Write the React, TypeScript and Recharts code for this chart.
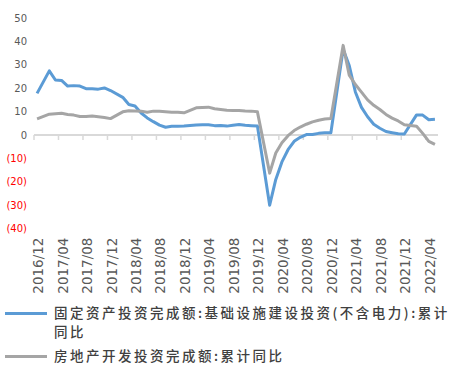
import React from 'react';
import { LineChart, Line, XAxis, YAxis, ReferenceLine } from 'recharts';

// months 2016/12 .. 2022/05, January has no release (null, joined across)
const months = [
  '2016/12',
  '2017/01', '2017/02', '2017/03', '2017/04', '2017/05', '2017/06',
  '2017/07', '2017/08', '2017/09', '2017/10', '2017/11', '2017/12',
  '2018/01', '2018/02', '2018/03', '2018/04', '2018/05', '2018/06',
  '2018/07', '2018/08', '2018/09', '2018/10', '2018/11', '2018/12',
  '2019/01', '2019/02', '2019/03', '2019/04', '2019/05', '2019/06',
  '2019/07', '2019/08', '2019/09', '2019/10', '2019/11', '2019/12',
  '2020/01', '2020/02', '2020/03', '2020/04', '2020/05', '2020/06',
  '2020/07', '2020/08', '2020/09', '2020/10', '2020/11', '2020/12',
  '2021/01', '2021/02', '2021/03', '2021/04', '2021/05', '2021/06',
  '2021/07', '2021/08', '2021/09', '2021/10', '2021/11', '2021/12',
  '2022/01', '2022/02', '2022/03', '2022/04', '2022/05',
];

const infraYoY = [
  17.8,
  null, 27.4, 23.5, 23.3, 20.9, 21.1, 20.9, 19.8, 19.8, 19.6, 20.1, 19.0,
  null, 16.1, 13.0, 12.4, 9.4, 7.3, 5.7, 4.2, 3.3, 3.7, 3.7, 3.8,
  null, 4.3, 4.4, 4.4, 4.0, 4.1, 3.8, 4.2, 4.5, 4.2, 4.0, 3.8,
  null, -30.0, -19.0, -11.5, -6.3, -2.7, -1.0, 0.2, 0.2, 0.7, 1.0, 1.0,
  null, 36.6, 29.7, 18.4, 11.8, 7.8, 4.6, 2.9, 1.5, 1.0, 0.5, 0.4,
  null, 8.6, 8.5, 6.5, 6.7,
];

const realEstateYoY = [
  6.9,
  null, 8.9, 9.1, 9.3, 8.8, 8.5, 7.9, 7.9, 8.1, 7.8, 7.5, 7.0,
  null, 9.9, 10.4, 10.3, 10.2, 9.7, 10.2, 10.1, 9.9, 9.7, 9.7, 9.5,
  null, 11.6, 11.8, 11.9, 11.2, 10.9, 10.6, 10.5, 10.5, 10.3, 10.2, 9.9,
  null, -16.3, -7.7, -3.3, -0.3, 1.9, 3.4, 4.6, 5.6, 6.3, 6.8, 7.0,
  null, 38.3, 25.6, 21.6, 18.3, 15.0, 12.7, 10.9, 8.8, 7.2, 6.0, 4.4,
  null, 3.7, 0.7, -2.7, -4.0,
];

const yTicks = [-40, -30, -20, -10, 0, 10, 20, 30, 40, 50];

const seriesNames = [
  '固定资产投资完成额:基础设施建设投资(不含电力):累计同比',
  '房地产开发投资完成额:累计同比',
];

const BLUE = '#5B9BD5';
const GRAY = '#A5A5A5';
const LABEL_EVERY = 4;

const data = months.map((m, i) => ({
  month: m,
  infra: infraYoY[i],
  estate: realEstateYoY[i],
}));

const fmtY = (v: number) => (v < 0 ? `(${Math.abs(v)})` : `${v}`);

function YTick({ x, y, payload }: any) {
  const v = payload.value;
  return (
    <text x={x} y={y} dy={3.5} textAnchor="end" fontSize={10}
      fontFamily="DejaVu Sans" fill={v < 0 ? '#FF0000' : '#595959'}>
      {fmtY(v)}
    </text>
  );
}

function XTick({ x, y, payload }: any) {
  return (
    <g transform={`translate(${x},${y})`}>
      <text transform="rotate(-90)" x={0} y={0} dy={6} textAnchor="end"
        fontSize={13.5} fontFamily="DejaVu Sans" fill="#595959">
        {payload.value}
      </text>
    </g>
  );
}

// zero axis line with small tick marks every 4 months (between categories)
function ZeroAxis(props: any) {
  const left = Math.min(props.x1, props.x2);
  const right = Math.max(props.x1, props.x2);
  const y = props.y1;
  const step = ((right - left) / months.length) * LABEL_EVERY;
  const marks = [];
  for (let k = 0; left + k * step <= right - 1; k++) {
    const tx = left + k * step;
    marks.push(<line key={k} x1={tx} x2={tx} y1={y} y2={y + 5} stroke="#D9D9D9" strokeWidth={1.5} />);
  }
  return (
    <g>
      <line x1={left} x2={right} y1={y} y2={y} stroke="#D9D9D9" strokeWidth={2} />
      {marks}
    </g>
  );
}

function LegendRow({ color, label, top }: { color: string; label: string; top: number }) {
  return (
    <div style={{ position: 'absolute', left: 0, top, width: 451, display: 'flex' }}>
      <div style={{ width: 42, height: 3, background: color, marginLeft: 5, marginTop: 8.5, flexShrink: 0 }} />
      <div style={{
        marginLeft: 7, width: 397, fontFamily: '"Noto Sans CJK SC"', fontSize: 13.5,
        fontWeight: 500, letterSpacing: 2.5, lineHeight: '19px', color: '#404040',
      }}>
        {label}
      </div>
    </div>
  );
}

export default function App() {
  return (
    <div style={{
      position: 'absolute', left: 0, top: 0, width: 451, height: 390,
      overflow: 'hidden', background: '#fff',
    }}>
      <LineChart width={451} height={390} data={data}
        margin={{ top: 18, right: 13, bottom: 0, left: 0 }}>
        <XAxis dataKey="month" interval={LABEL_EVERY - 1} height={161.4}
          padding={{ left: 3.06, right: 3.06 }} axisLine={false} tickLine={false}
          tickSize={0} tickMargin={9} tick={<XTick />} />
        <YAxis domain={[-40, 50]} ticks={yTicks} interval={0} width={34}
          axisLine={false} tickLine={false} tickSize={0} tickMargin={7} tick={<YTick />} />
        <ReferenceLine y={0} shape={(p: any) => <ZeroAxis {...p} />} />
        <Line dataKey="infra" type="linear" stroke={BLUE} strokeWidth={3} dot={false}
          connectNulls isAnimationActive={false} strokeLinejoin="round" />
        <Line dataKey="estate" type="linear" stroke={GRAY} strokeWidth={3} dot={false}
          connectNulls isAnimationActive={false} strokeLinejoin="round" />
      </LineChart>
      <LegendRow color={BLUE} label={seriesNames[0]} top={303} />
      <LegendRow color={GRAY} label={seriesNames[1]} top={346} />
    </div>
  );
}
